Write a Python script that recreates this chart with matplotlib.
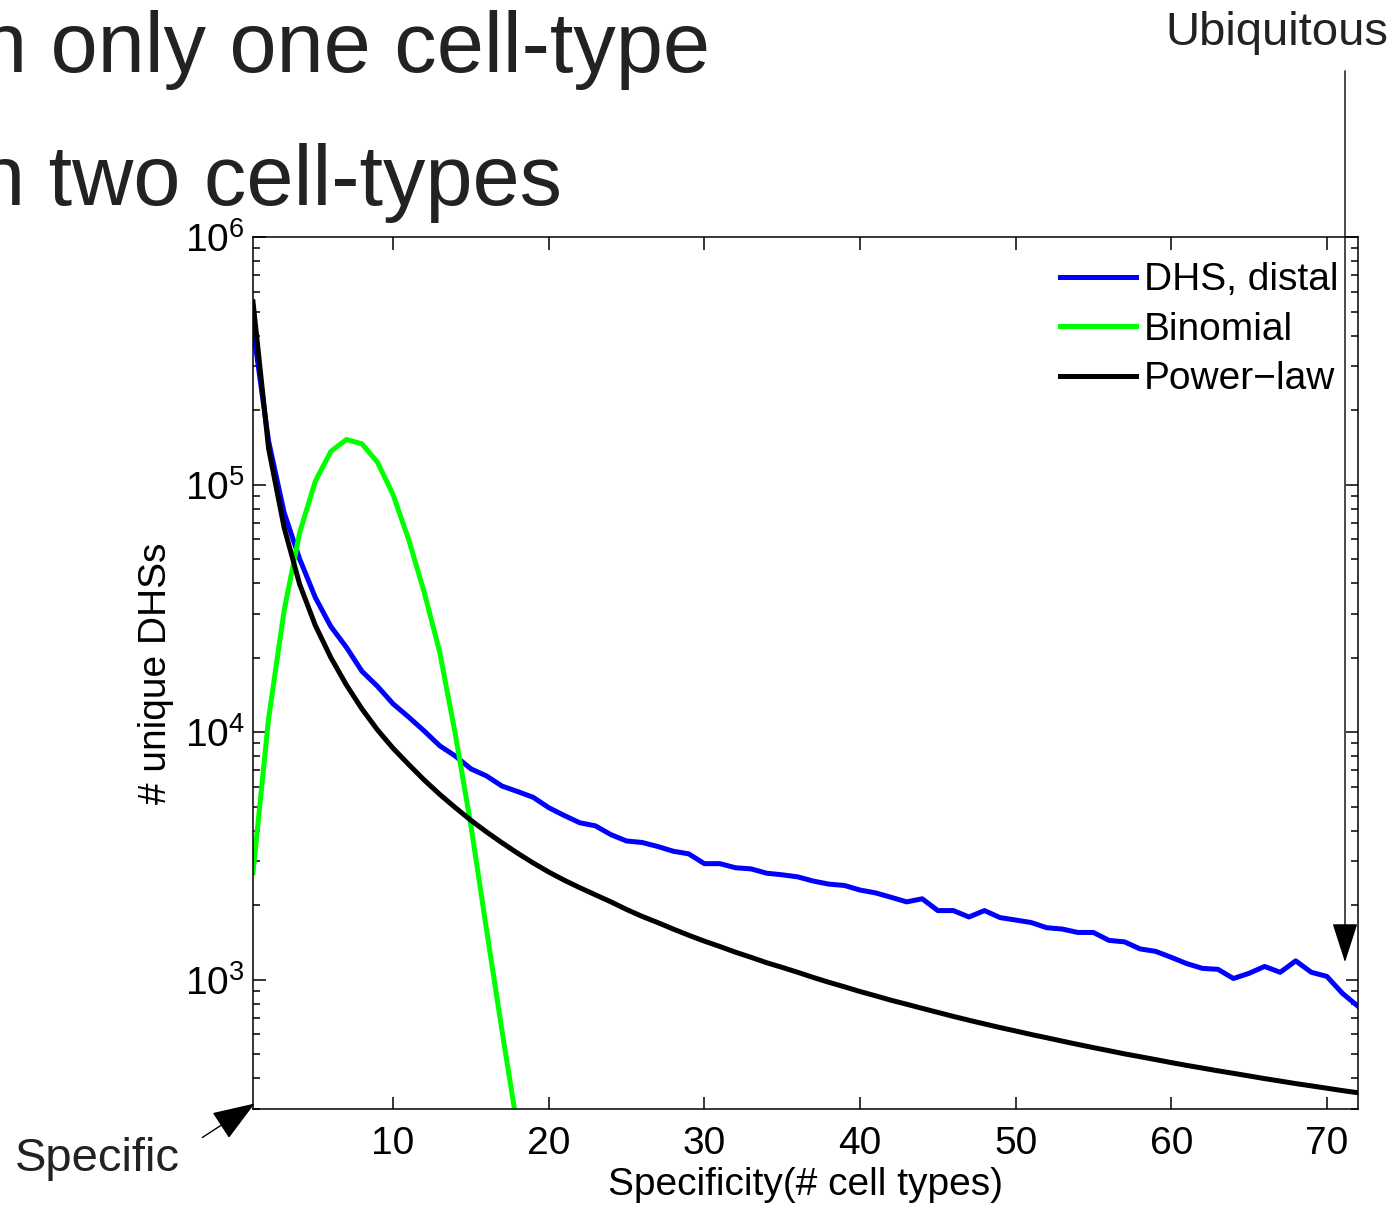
import matplotlib
matplotlib.use('Agg')
import matplotlib.pyplot as plt
from matplotlib.ticker import LogLocator, NullFormatter, FixedLocator

plt.rcParams['font.family'] = ['Liberation Sans', 'DejaVu Sans']
plt.rcParams['mathtext.fontset'] = 'custom'
plt.rcParams['mathtext.rm'] = 'Liberation Sans'
plt.rcParams['mathtext.it'] = 'Liberation Sans'
plt.rcParams['mathtext.bf'] = 'Liberation Sans'

# number of cell types a DHS is found in
cell_types = list(range(1, 73))

dhs_distal = [430000, 150000, 77000, 50000, 35000, 26700, 22000, 17600, 15300, 13000,
              11500, 10100, 8800, 8000, 7100, 6650, 6050, 5750, 5450, 4950,
              4600, 4300, 4180, 3850, 3630, 3580, 3450, 3300, 3220, 2940,
              2940, 2830, 2800, 2690, 2650, 2600, 2500, 2430, 2400, 2300,
              2240, 2150, 2060, 2120, 1900, 1900, 1790, 1900, 1780, 1740,
              1700, 1620, 1600, 1550, 1550, 1440, 1420, 1330, 1300, 1230,
              1160, 1110, 1100, 1010, 1060, 1130, 1070, 1190, 1070, 1030,
              880, 780]

binom_x = list(range(1, 19))
binomial = [2700, 11300, 31000, 64000, 103000, 136000, 152000, 146000, 123000, 91000,
            60000, 36700, 21000, 9800, 4200, 1600, 620, 250]

power_law = [547000, 140000, 67000, 39500, 27000, 20000, 15500, 12400, 10200, 8600,
             7400, 6400, 5600, 4950, 4400, 3950, 3570, 3240, 2960, 2720,
             2520, 2350, 2200, 2060, 1920, 1800, 1700, 1600, 1510, 1430,
             1360, 1290, 1230, 1170, 1120, 1070, 1020, 975, 935, 895,
             860, 825, 795, 765, 737, 710, 685, 662, 640, 620,
             600, 582, 564, 547, 531, 516, 501, 488, 475, 462,
             450, 439, 428, 418, 408, 398, 389, 380, 372, 364,
             356, 349]

W, H = 1393, 1209
fig = plt.figure(figsize=(W / 100, H / 100), dpi=100)
ax = fig.add_axes([253 / W, 1 - 1109 / H, (1358 - 253) / W, (1109 - 237) / H])

ax.plot(cell_types, dhs_distal, color='#0000ff', lw=3.6, label='DHS, distal')
ax.plot(binom_x, binomial, color='#00ff00', lw=3.6, label='Binomial')
ax.plot(cell_types, power_law, color='black', lw=3.6, label='Power\u2212law')

ax.set_yscale('log')
ax.set_xlim(1, 72)
ax.set_ylim(300, 1e6)
ax.xaxis.set_major_locator(FixedLocator([10, 20, 30, 40, 50, 60, 70]))
ax.yaxis.set_major_locator(LogLocator(base=10, numticks=10))
ax.yaxis.set_minor_locator(LogLocator(base=10, subs=range(2, 10), numticks=10))
ax.yaxis.set_minor_formatter(NullFormatter())

ax.tick_params(which='both', direction='in', top=True, right=True, labelsize=28, width=1.1)
ax.tick_params(which='major', length=9)
ax.tick_params(which='minor', length=5)
ax.tick_params(axis='x', pad=12)
ax.tick_params(axis='y', pad=6)
for s in ax.spines.values():
    s.set_linewidth(1.1)

ax.set_xlabel('Specificity(# cell types)', fontsize=28, labelpad=4)
ax.set_ylabel('# unique DHSs', fontsize=28, labelpad=8)

ax.legend(loc='upper right', bbox_to_anchor=(1.0, 0.9935), frameon=False, fontsize=28,
          handlelength=1.95, handletextpad=0.2, labelspacing=0.35, borderaxespad=0.1)

# headings cut off at the left edge
fig.text(710 / W, 1 - 72 / H, 'n only one cell-type', fontsize=61, ha='right',
         va='baseline', color='#222222')
fig.text(562 / W, 1 - 205 / H, 'n two cell-types', fontsize=61, ha='right',
         va='baseline', color='#222222')

# Ubiquitous / Specific markers
fig.text(1388 / W, 1 - 33 / H, 'Ubiquitous', fontsize=34, ha='right', va='center',
         color='#222222')
ax.annotate('', xy=(1345 / W, 1 - 965 / H), xycoords='figure fraction',
            xytext=(1345 / W, 1 - 68 / H), textcoords='figure fraction',
            arrowprops=dict(arrowstyle='-|>,head_length=1.4,head_width=0.45',
                            mutation_scale=18, lw=1, color='black'))
fig.text(15 / W, 1 - 1159 / H, 'Specific', fontsize=34, ha='left', va='center',
         color='#222222')
ax.annotate('', xy=(257 / W, 1 - 1102 / H), xycoords='figure fraction',
            xytext=(200 / W, 1 - 1139 / H), textcoords='figure fraction',
            arrowprops=dict(arrowstyle='-|>,head_length=1.5,head_width=0.55',
                            mutation_scale=18, lw=1, color='black'))

fig.savefig('out.png', dpi=100)
